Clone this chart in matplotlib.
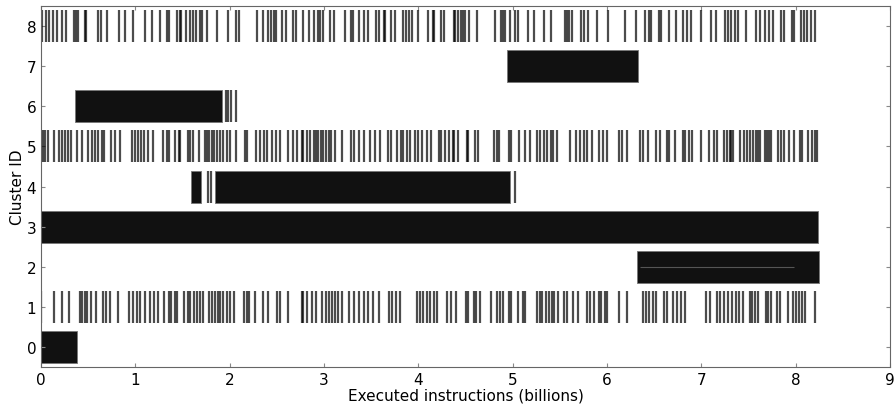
# cluster_timeline.py
# Plot which cluster each interval of execution falls into

import matplotlib.pyplot as plt

# sparse clusters: positions of individual intervals (billions of instructions)
c1 = [0.00, 0.14, 0.22, 0.29, 0.41, 0.43, 0.46, 0.49, 0.53, 0.58, 0.66, 0.69, 0.73, 0.81, 0.93, 0.97,
      1.02, 1.05, 1.10, 1.15, 1.20, 1.24, 1.30, 1.35, 1.38, 1.42, 1.44, 1.51, 1.56, 1.58, 1.62, 1.65,
      1.68, 1.72, 1.78, 1.81, 1.84, 1.88, 1.90, 1.93, 1.97, 2.00, 2.04, 2.15, 2.18, 2.20, 2.27, 2.35,
      2.40, 2.50, 2.53, 2.62, 2.76, 2.78, 2.82, 2.87, 2.91, 2.98, 3.02, 3.05, 3.08, 3.11, 3.15, 3.19,
      3.26, 3.32, 3.37, 3.42, 3.47, 3.52, 3.58, 3.69, 3.72, 3.76, 3.80, 3.98, 4.02, 4.05, 4.09, 4.12,
      4.16, 4.20, 4.30, 4.34, 4.40, 4.50, 4.52, 4.59, 4.61, 4.65, 4.77, 4.83, 4.86, 4.90, 4.96, 4.98,
      5.06, 5.11, 5.13, 5.26, 5.29, 5.31, 5.35, 5.38, 5.42, 5.44, 5.48, 5.54, 5.58, 5.64, 5.69, 5.79,
      5.82, 5.86, 5.91, 5.94, 5.98, 6.00, 6.13, 6.21, 6.38, 6.41, 6.44, 6.49, 6.52, 6.60, 6.64, 6.70,
      6.74, 6.78, 6.83, 7.05, 7.09, 7.16, 7.20, 7.24, 7.28, 7.32, 7.37, 7.40, 7.44, 7.52, 7.54, 7.57,
      7.60, 7.68, 7.71, 7.74, 7.80, 7.83, 7.92, 7.97, 8.00, 8.03, 8.07, 8.10, 8.20]
c5 = [0.00, 0.02, 0.04, 0.07, 0.14, 0.19, 0.22, 0.25, 0.28, 0.32, 0.38, 0.43, 0.50, 0.54, 0.57, 0.60,
      0.65, 0.67, 0.74, 0.78, 0.84, 0.96, 0.99, 1.03, 1.06, 1.09, 1.13, 1.19, 1.29, 1.33, 1.36, 1.42,
      1.46, 1.47, 1.56, 1.58, 1.61, 1.67, 1.74, 1.76, 1.78, 1.81, 1.83, 1.86, 1.90, 1.93, 1.97, 2.00,
      2.07, 2.16, 2.18, 2.28, 2.32, 2.36, 2.39, 2.45, 2.49, 2.53, 2.62, 2.67, 2.71, 2.76, 2.78, 2.82,
      2.85, 2.89, 2.91, 2.93, 2.97, 2.99, 3.02, 3.05, 3.07, 3.11, 3.19, 3.29, 3.32, 3.37, 3.42, 3.49,
      3.54, 3.59, 3.68, 3.71, 3.77, 3.81, 3.84, 3.88, 3.91, 3.96, 3.99, 4.04, 4.09, 4.13, 4.22, 4.24,
      4.28, 4.32, 4.37, 4.38, 4.42, 4.51, 4.53, 4.60, 4.63, 4.80, 4.83, 4.85, 4.96, 4.98, 5.07, 5.13,
      5.18, 5.26, 5.29, 5.33, 5.36, 5.40, 5.43, 5.47, 5.61, 5.67, 5.71, 5.76, 5.79, 5.84, 5.91, 5.96,
      6.00, 6.13, 6.16, 6.21, 6.35, 6.38, 6.43, 6.52, 6.56, 6.63, 6.66, 6.72, 6.80, 6.83, 6.87, 6.90,
      7.00, 7.08, 7.13, 7.17, 7.24, 7.27, 7.30, 7.31, 7.33, 7.41, 7.45, 7.48, 7.51, 7.55, 7.58, 7.60,
      7.62, 7.67, 7.69, 7.72, 7.74, 7.81, 7.84, 7.88, 7.93, 7.98, 8.05, 8.07, 8.13, 8.17, 8.20, 8.23]
c8 = [0.01, 0.05, 0.08, 0.13, 0.17, 0.22, 0.26, 0.35, 0.37, 0.39, 0.46, 0.48, 0.60, 0.63, 0.70, 0.83,
      0.89, 0.97, 1.10, 1.18, 1.26, 1.33, 1.36, 1.44, 1.47, 1.48, 1.54, 1.58, 1.61, 1.64, 1.68, 1.71,
      1.76, 1.86, 1.98, 2.07, 2.10, 2.29, 2.35, 2.40, 2.44, 2.47, 2.49, 2.55, 2.60, 2.67, 2.70, 2.78,
      2.84, 2.89, 2.93, 2.96, 2.99, 3.06, 3.10, 3.22, 3.29, 3.31, 3.37, 3.42, 3.47, 3.55, 3.58, 3.63,
      3.65, 3.71, 3.75, 3.84, 3.87, 3.90, 3.93, 3.99, 4.10, 4.15, 4.17, 4.24, 4.27, 4.38, 4.39, 4.42,
      4.45, 4.47, 4.49, 4.54, 4.62, 4.81, 4.87, 4.90, 4.92, 4.97, 5.02, 5.06, 5.16, 5.22, 5.33, 5.41,
      5.55, 5.57, 5.60, 5.63, 5.72, 5.76, 5.80, 5.89, 6.01, 6.19, 6.31, 6.40, 6.44, 6.47, 6.55, 6.57,
      6.66, 6.73, 6.80, 6.85, 6.89, 7.00, 7.10, 7.15, 7.25, 7.28, 7.31, 7.36, 7.39, 7.47, 7.58, 7.62,
      7.67, 7.72, 7.76, 7.84, 7.88, 7.96, 7.98, 8.06, 8.09, 8.12, 8.16, 8.20]

# dense clusters: (start, width) of solid runs
c0_spans = [(0.0, 0.38)]
c2_spans = [(6.32, 1.93)]
c3_spans = [(0.0, 8.24)]
c4_spans = [(1.59, 0.10), (1.84, 3.13)]
c6_spans = [(0.36, 1.56)]
c7_spans = [(4.94, 1.39)]

# isolated intervals next to the dense runs
c4_extra = [1.77, 1.80, 5.02]
c6_extra = [1.96, 1.98, 2.01, 2.07]

fig = plt.figure(figsize=(8.95, 4.1), dpi=100)
ax = fig.add_axes([0.046, 0.102, 0.9485, 0.881])

h = 0.8
ax.eventplot([c1, c5, c8], lineoffsets=[1, 5, 8], linelengths=h,
             colors='black', linewidths=1.6, alpha=0.7)
ax.eventplot([c4_extra, c6_extra], lineoffsets=[4, 6], linelengths=h,
             colors='black', linewidths=1.6, alpha=0.7)

for cid, spans in [(0, c0_spans), (2, c2_spans), (3, c3_spans),
                   (4, c4_spans), (6, c6_spans), (7, c7_spans)]:
    ax.broken_barh(spans, (cid - h/2, h), facecolors='#111111',
                   edgecolor='#777777', linewidth=0.6)

# faint artefact line inside cluster 2
ax.hlines(2, 6.35, 7.98, color='#555555', linewidth=0.8)

ax.set_xlim(0, 9)
ax.set_ylim(-0.5, 8.5)
ax.set_yticks(range(9))
ax.set_xticks(range(10))
ax.tick_params(direction='in', top=True, right=True, labelsize=11, length=3,
               color='#888888')
for s in ax.spines.values():
    s.set_color('#666666')

ax.set_xlabel("Executed instructions (billions)", fontsize=11, labelpad=0)
ax.set_ylabel("Cluster ID", fontsize=11, labelpad=1)

fig.savefig('out.png', dpi=100)
